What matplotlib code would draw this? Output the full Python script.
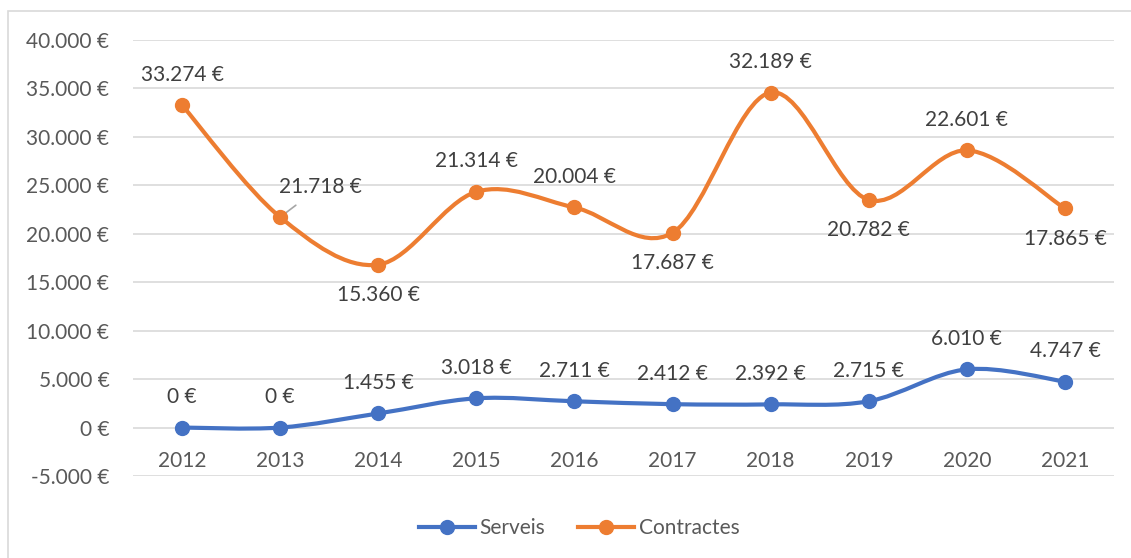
import matplotlib.pyplot as plt
import numpy as np
from matplotlib.path import Path
from matplotlib.patches import PathPatch, Rectangle
from matplotlib.lines import Line2D

plt.rcParams['font.family'] = ['Lato', 'DejaVu Sans']

# Data (stacked line chart: Contractes drawn on top of Serveis)
years = ['2012', '2013', '2014', '2015', '2016', '2017', '2018', '2019', '2020', '2021']
serveis = [0, 0, 1455, 3018, 2711, 2412, 2392, 2715, 6010, 4747]
contractes = [33274, 21718, 15360, 21314, 20004, 17687, 32189, 20782, 22601, 17865]
# label placement for Contractes: 1 above, -1 below
contr_pos = [1, 1, -1, 1, 1, -1, 1, -1, 1, -1]

BLUE = '#4472C4'
ORANGE = '#ED7D31'
TXT = '#404040'
AX_TXT = '#595959'
FS = 15


def fmt(v):
    return f"{v:,.0f} €".replace(',', '.')


def smooth_path(x, y):
    # Bezier curve through the points, like Excel's smoothed lines
    pts = np.column_stack([x, y]).astype(float)
    ext = np.vstack([pts[0], pts, pts[-1]])
    verts = [pts[0]]
    codes = [Path.MOVETO]
    for i in range(len(pts) - 1):
        p0, p1, p2, p3 = ext[i], ext[i + 1], ext[i + 2], ext[i + 3]
        verts += [p1 + (p2 - p0) / 6, p2 - (p3 - p1) / 6, p2]
        codes += [Path.CURVE4] * 3
    return Path(verts, codes)


fig = plt.figure(figsize=(11.31, 5.58), dpi=100)
ax = fig.add_axes([133 / 1131, 1 - 476 / 558, (1114 - 133) / 1131, (476 - 40) / 558])

# outer chart border
fig.patches.append(Rectangle((8 / 1131, -0.1), 1.2, 1 - 11 / 558 + 0.1, transform=fig.transFigure,
                             fill=False, edgecolor='#D9D9D9', linewidth=1.2))

x = np.arange(len(years))
s = np.array(serveis)
c = s + np.array(contractes)

for yv, col in [(s, BLUE), (c, ORANGE)]:
    ax.add_patch(PathPatch(smooth_path(x, yv), fill=False, edgecolor=col, linewidth=3.0,
                           capstyle='round', joinstyle='round', zorder=3))
    ax.plot(x, yv, linestyle='none', marker='o', markersize=10, color=col, zorder=4)

# data labels
for i in range(len(years)):
    ax.annotate(fmt(serveis[i]), (x[i], s[i]), xytext=(0, 22), textcoords='offset points',
                ha='center', va='center', fontsize=FS, color=TXT)
    if i == 1:
        ax.annotate(fmt(contractes[i]), (x[i], c[i]), xytext=(29, 22), textcoords='offset points',
                    ha='center', va='center', fontsize=FS, color=TXT,
                    arrowprops=dict(arrowstyle='-', color='#A6A6A6', lw=1.2, shrinkA=7, shrinkB=0))
    else:
        ax.annotate(fmt(contractes[i]), (x[i], c[i]), xytext=(0, 22 * contr_pos[i]),
                    textcoords='offset points', ha='center', va='center', fontsize=FS, color=TXT)

ax.set_xlim(-0.5, len(years) - 0.5)
ax.set_ylim(-5000, 40000)
ax.set_yticks(np.arange(-5000, 40001, 5000))
ax.set_yticklabels([fmt(v) for v in np.arange(-5000, 40001, 5000)])
ax.grid(axis='y', color='#D9D9D9', linewidth=1.2)
ax.set_axisbelow(True)
for sp in ax.spines.values():
    sp.set_visible(False)
ax.tick_params(axis='y', length=0, pad=17, labelsize=FS, labelcolor=AX_TXT)

ax.spines['bottom'].set_position(('data', 0))
ax.set_xticks(x)
ax.set_xticklabels(years)
ax.tick_params(axis='x', length=0, pad=17, labelsize=FS, labelcolor=AX_TXT)

handles = [Line2D([], [], color=BLUE, lw=3, marker='o', markersize=10),
           Line2D([], [], color=ORANGE, lw=3, marker='o', markersize=10)]
fig.legend(handles, ['Serveis', 'Contractes'], loc='center', bbox_to_anchor=(0.512, 1 - 528 / 558),
           ncol=2, frameon=False, fontsize=FS, handlelength=2.7, handletextpad=0.2,
           columnspacing=1.6, labelcolor=AX_TXT)

plt.savefig('out.png', dpi=100)
